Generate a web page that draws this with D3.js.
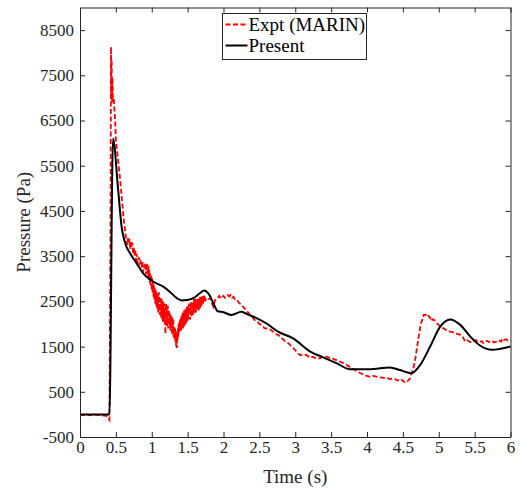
<!DOCTYPE html>
<html>
<head>
<meta charset="utf-8">
<script src="https://cdn.jsdelivr.net/npm/d3@7"></script>
<style>
  body { margin: 0; background: #fff; }
  text { font-family: "Liberation Serif", serif; }
</style>
</head>
<body>
<script>
var exptTimeA = [0, 0.1, 0.2, 0.3, 0.38, 0.41, 0.425, 0.432, 0.437, 0.441, 0.447, 0.452, 0.46, 0.47, 0.49, 0.50,
  0.53, 0.56, 0.585, 0.61, 0.63, 0.64, 0.65, 0.66, 0.67, 0.68, 0.69, 0.70, 0.71, 0.72, 0.73, 0.74, 0.75, 0.76,
  0.77, 0.78, 0.79, 0.80, 0.82, 0.83, 0.84, 0.86, 0.87, 0.88, 0.89, 0.90, 0.91, 0.92, 0.93];
var exptPressureA = [-10, -20, -10, -20, -40, -120, 4000, 8130, 7000, 7850, 6900, 7450, 6900, 7000, 6500, 6070,
  5630, 5190, 4740, 4300, 4050, 3920, 3850, 3750, 3900, 3800, 3880, 3650, 3820, 3700, 3800, 3550, 3700, 3500,
  3650, 3400, 3550, 3350, 3480, 3300, 3420, 3250, 3380, 3150, 3300, 3200, 3350, 3100, 3300];

// noisy burst, sampled every 0.005 s from 0.94 s
var burstStart = 0.94, burstStep = 0.005;
var burstPressure = [
  3300, 3100, 3050, 3280, 2980, 3200, 3150, 2900, 3120, 2850, 2950, 3080,
  2750, 3000, 2700, 2900, 2950, 2600, 2850, 2550, 2800, 2700, 2450, 2750,
  2500, 2400, 2700, 2350, 2650, 2450, 2250, 2600, 2700, 2300, 2550, 2200,
  2450, 2600, 2150, 2400, 2550, 2100, 2350, 2050, 2500, 2300, 2100, 2450,
  2000, 2300, 1780, 2250, 2450, 2050, 2350, 1950, 2200, 2400, 1900, 2150,
  2300, 1950, 2250, 2050, 1850, 2200, 1950, 2100, 1800, 2150, 1750, 2000,
  2100, 1700, 1950, 1800, 1650, 1900, 1600, 1850, 1500, 1700, 1470, 1800,
  1650, 1900, 1700, 2000, 1800, 2050, 1850, 2100, 1900, 2150, 1850, 2200,
  1950, 2100, 2250, 1900, 2200, 2000, 2300, 1950, 2250, 2050, 2350, 2000,
  2300, 2100, 2400, 2050, 2350, 2150, 2400, 2100, 2450, 2200, 2350, 2100,
  2450, 2200, 2500, 2150, 2400, 2250, 2500, 2200, 2450, 2300, 2550, 2250,
  2500, 2300, 2550, 2250, 2450, 2350, 2550, 2300, 2500, 2400, 2580, 2300,
  2550, 2400, 2600, 2350, 2550, 2450, 2600, 2400, 2580, 2450, 2620, 2450,
  2600, 2500, 2650, 2480, 2600, 2500, 2550];

// after the burst
var exptTimeB = [1.78, 1.80, 1.82, 1.84, 1.86, 1.88, 1.90, 1.92, 1.94, 1.96, 1.98, 2.00, 2.02, 2.04, 2.06, 2.08,
  2.10, 2.12, 2.14, 2.16, 2.19, 2.22, 2.25, 2.29, 2.32, 2.36, 2.40, 2.43, 2.47, 2.50, 2.54, 2.57, 2.61, 2.65,
  2.69, 2.72, 2.76, 2.79, 2.83, 2.86, 2.90, 2.93, 2.97, 3.00, 3.04, 3.07, 3.11, 3.16, 3.20, 3.25, 3.30, 3.34,
  3.39, 3.44, 3.48, 3.51, 3.55, 3.58, 3.62, 3.65, 3.69, 3.72, 3.76, 3.79, 3.83, 3.86, 3.90, 3.95, 4.00, 4.05,
  4.09, 4.12, 4.16, 4.19, 4.23, 4.26, 4.29, 4.32, 4.35, 4.38, 4.41, 4.43, 4.46, 4.48, 4.51, 4.53, 4.55, 4.57,
  4.60, 4.62, 4.65, 4.67, 4.69, 4.72, 4.75, 4.77, 4.79, 4.82, 4.84, 4.86, 4.88, 4.89, 4.91, 4.93, 4.95, 4.97,
  5.00, 5.02, 5.05, 5.09, 5.12, 5.16, 5.19, 5.23, 5.26, 5.30, 5.32, 5.34, 5.37, 5.40, 5.42, 5.44, 5.46, 5.49,
  5.52, 5.55, 5.57, 5.60, 5.62, 5.65, 5.67, 5.70, 5.74, 5.77, 5.80, 5.83, 5.87, 5.89, 5.91, 5.94, 5.97, 6.00];
var exptPressureB = [2520, 2560, 2570, 2450, 2380, 2520, 2560, 2580, 2620, 2560, 2600, 2620, 2580, 2600, 2640, 2610,
  2640, 2580, 2600, 2540, 2530, 2460, 2430, 2350, 2300, 2220, 2170, 2090, 2060, 2000, 1970, 1910, 1900, 1880,
  1830, 1780, 1760, 1720, 1660, 1620, 1580, 1530, 1470, 1420, 1350, 1310, 1330, 1310, 1260, 1270, 1230, 1240,
  1280, 1280, 1250, 1250, 1210, 1200, 1170, 1150, 1120, 1090, 1050, 1010, 990, 950, 920, 880, 850, 830,
  850, 840, 820, 820, 810, 800, 800, 780, 790, 790, 760, 750, 780, 770, 730, 700, 720, 740,
  800, 900, 1050, 1200, 1400, 1720, 2000, 2090, 2200, 2200, 2150, 2180, 2130, 2160, 2090, 2100, 2050, 2020,
  1980, 1940, 1920, 1880, 1850, 1830, 1820, 1800, 1780, 1760, 1720, 1700, 1610, 1640, 1620, 1600, 1590, 1630,
  1640, 1600, 1610, 1620, 1580, 1610, 1630, 1600, 1630, 1590, 1610, 1640, 1610, 1680, 1650, 1660, 1620, 1630];

// present simulation
var presentTime = [0, 0.41, 0.46, 0.53, 0.58, 0.63, 0.70, 0.79, 0.88, 1.02, 1.16, 1.25, 1.35, 1.42, 1.49, 1.58,
  1.67, 1.73, 1.80, 1.87, 1.92, 2.00, 2.11, 2.25, 2.35, 2.46, 2.60, 2.76, 2.97, 3.21, 3.39, 3.58, 3.76, 4.04,
  4.32, 4.46, 4.62, 4.74, 4.88, 5.02, 5.16, 5.30, 5.44, 5.57, 5.74, 6.00];
var presentPressure = [0, 0, 6100, 5000, 4150, 3785, 3560, 3340, 3120, 2940, 2825, 2715, 2570, 2520, 2530, 2570,
  2680, 2740, 2650, 2420, 2280, 2260, 2200, 2270, 2200, 2130, 2010, 1830, 1680, 1390, 1260, 1130, 1000, 1000,
  1040, 980, 910, 1090, 1500, 1940, 2100, 1980, 1720, 1530, 1430, 1500];

var xTicks = [0, 0.5, 1, 1.5, 2, 2.5, 3, 3.5, 4, 4.5, 5, 5.5, 6];
var yTicks = [-500, 500, 1500, 2500, 3500, 4500, 5500, 6500, 7500, 8500];
var seriesNames = ["Expt (MARIN)", "Present"];

var width = 521, height = 490;
var margin = {top: 7.5, right: 10.5, bottom: 53, left: 80};
var innerWidth = width - margin.left - margin.right;
var innerHeight = height - margin.top - margin.bottom;
var axisColor = "#262626";

var svg = d3.select("body").append("svg")
  .attr("width", width)
  .attr("height", height);

var g = svg.append("g")
  .attr("transform", "translate(" + margin.left + "," + margin.top + ")");

var x = d3.scaleLinear().domain([0, 6]).range([0, innerWidth]);
var y = d3.scaleLinear().domain([-500, 9000]).range([innerHeight, 0]);

// join the experiment pieces
var expt = exptTimeA.map(function(t, i) { return [t, exptPressureA[i]]; })
  .concat(burstPressure.map(function(p, i) { return [burstStart + i * burstStep, p]; }))
  .concat(exptTimeB.map(function(t, i) { return [t, exptPressureB[i]]; }));
var present = presentTime.map(function(t, i) { return [t, presentPressure[i]]; });

var line = d3.line()
  .x(function(d) { return x(d[0]); })
  .y(function(d) { return y(d[1]); });

g.append("path")
  .datum(expt)
  .attr("d", line)
  .attr("fill", "none")
  .attr("stroke", "#ff0000")
  .attr("stroke-width", 1.8)
  .attr("stroke-dasharray", "5,2.5");

g.append("path")
  .datum(present)
  .attr("d", line.curve(d3.curveMonotoneX))
  .attr("fill", "none")
  .attr("stroke", "#000")
  .attr("stroke-width", 2);

// axes, ticks pointing in
function styleAxis(sel) {
  sel.select(".domain").attr("stroke", axisColor);
  sel.selectAll(".tick line").attr("stroke", axisColor);
  sel.selectAll(".tick text")
    .attr("fill", axisColor)
    .style("font-family", "'Liberation Serif', serif")
    .style("font-size", "17px");
}
var plain = function(d) { return String(d); };

g.append("g")
  .attr("transform", "translate(0," + innerHeight + ")")
  .call(d3.axisBottom(x).tickValues(xTicks).tickSize(-5).tickSizeOuter(0).tickPadding(4).tickFormat(plain))
  .call(styleAxis);

g.append("g")
  .call(d3.axisTop(x).tickValues(xTicks).tickSize(-5).tickSizeOuter(0))
  .call(styleAxis)
  .selectAll("text").remove();

g.append("g")
  .call(d3.axisLeft(y).tickValues(yTicks).tickSize(-5).tickSizeOuter(0).tickPadding(6).tickFormat(plain))
  .call(styleAxis);

g.append("g")
  .attr("transform", "translate(" + innerWidth + ",0)")
  .call(d3.axisRight(y).tickValues(yTicks).tickSize(-5).tickSizeOuter(0))
  .call(styleAxis)
  .selectAll("text").remove();

// axis titles
g.append("text")
  .attr("x", innerWidth / 2)
  .attr("y", innerHeight + 46)
  .attr("text-anchor", "middle")
  .attr("fill", axisColor)
  .style("font-size", "19px")
  .text("Time (s)");

g.append("text")
  .attr("transform", "translate(-50," + innerHeight / 2 + ") rotate(-90)")
  .attr("text-anchor", "middle")
  .attr("fill", axisColor)
  .style("font-size", "19px")
  .text("Pressure (Pa)");

// legend
var legend = svg.append("g").attr("transform", "translate(222.5,13.5)");
legend.append("rect")
  .attr("width", 144)
  .attr("height", 46)
  .attr("fill", "#fff")
  .attr("stroke", axisColor)
  .attr("stroke-width", 1);

var legendStyles = [
  {color: "#ff0000", dash: "5,2.5", w: 1.8},
  {color: "#000", dash: null, w: 2}
];

seriesNames.forEach(function(name, i) {
  var ly = 11 + i * 21;
  legend.append("line")
    .attr("x1", 3).attr("x2", 25)
    .attr("y1", ly).attr("y2", ly)
    .attr("stroke", legendStyles[i].color)
    .attr("stroke-width", legendStyles[i].w)
    .attr("stroke-dasharray", legendStyles[i].dash);
  legend.append("text")
    .attr("x", 26)
    .attr("y", ly + 6)
    .attr("fill", "#000")
    .style("font-size", "19px")
    .text(name);
});
</script>
</body>
</html>
